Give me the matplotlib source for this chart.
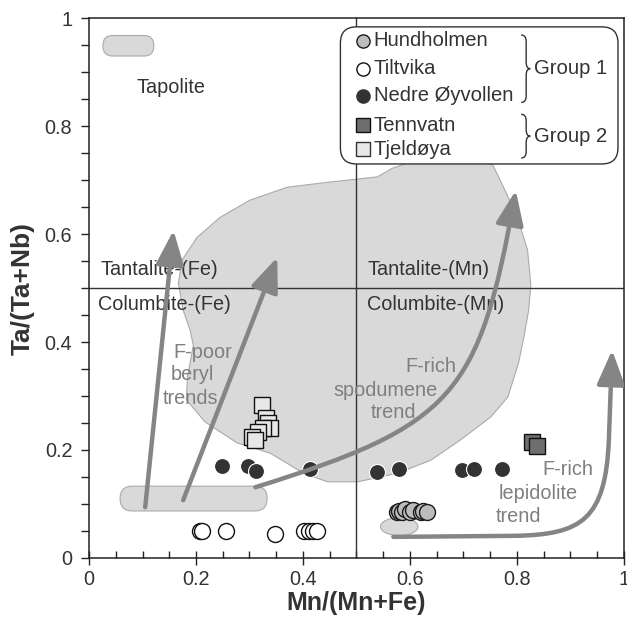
import numpy as np
import matplotlib
matplotlib.use("Agg")
import matplotlib.pyplot as plt
from matplotlib.patches import FancyArrowPatch, FancyBboxPatch, Ellipse, Polygon, PathPatch
from matplotlib.path import Path
from matplotlib.ticker import MultipleLocator, FixedLocator

plt.rcParams['font.family'] = ['Liberation Sans', 'DejaVu Sans']

# ---- samples (Mn/(Mn+Fe), Ta/(Ta+Nb)) ----
hund_x = [0.575, 0.580, 0.585, 0.590, 0.600, 0.605, 0.620, 0.625, 0.632]
hund_y = [0.085, 0.087, 0.085, 0.091, 0.086, 0.088, 0.085, 0.087, 0.086]
tilt_x = [0.208, 0.212, 0.257, 0.348, 0.402, 0.412, 0.419, 0.426]
tilt_y = [0.050, 0.050, 0.050, 0.045, 0.050, 0.050, 0.050, 0.050]
nedre_x = [0.249, 0.298, 0.313, 0.414, 0.539, 0.579, 0.697, 0.719, 0.772]
nedre_y = [0.170, 0.170, 0.161, 0.165, 0.159, 0.165, 0.163, 0.165, 0.165]
tenn_x = [0.829, 0.837]
tenn_y = [0.215, 0.207]
tjel_x = [0.324, 0.330, 0.335, 0.339, 0.326, 0.315, 0.305, 0.311]
tjel_y = [0.283, 0.259, 0.250, 0.241, 0.241, 0.233, 0.224, 0.219]

# ---- fields ----
field_x = [0.167, 0.174, 0.202, 0.245, 0.301, 0.371, 0.446, 0.502, 0.539, 0.567,
           0.620, 0.713, 0.755, 0.775, 0.801, 0.820, 0.826, 0.822, 0.813, 0.803,
           0.783, 0.751, 0.695, 0.639, 0.577, 0.502, 0.446, 0.401, 0.339, 0.277,
           0.217, 0.182, 0.184, 0.195, 0.189, 0.176]
field_y = [0.509, 0.552, 0.594, 0.631, 0.663, 0.687, 0.696, 0.702, 0.706, 0.722,
           0.740, 0.740, 0.728, 0.687, 0.631, 0.570, 0.506, 0.459, 0.409, 0.361,
           0.298, 0.261, 0.219, 0.181, 0.157, 0.141, 0.141, 0.157, 0.194, 0.213,
           0.252, 0.293, 0.335, 0.394, 0.422, 0.459]

labels = ["Hundholmen", "Tiltvika", "Nedre Øyvollen", "Tennvatn", "Tjeldøya"]
groups = ["Group 1", "Group 2"]

GREY_FILL = '#d9d9d9'
ARROW = '#858585'
TXT = '#333333'
TREND = '#7f7f7f'

fig = plt.figure(figsize=(6.27, 6.29), dpi=100)
ax = fig.add_axes([0.142, 0.113, 0.853, 0.858])
ax.set_xlim(0, 1)
ax.set_ylim(0, 1)

# fields
ax.add_patch(Polygon(np.column_stack([field_x, field_y]), closed=True,
                     fc=GREY_FILL, ec='#aaaaaa', lw=0.8, zorder=1))
ax.add_patch(FancyBboxPatch((0.034, 0.938), 0.079, 0.022,
                            boxstyle="round,pad=0.008,rounding_size=0.018",
                            fc=GREY_FILL, ec='#aaaaaa', lw=0.8, zorder=1))
ax.add_patch(FancyBboxPatch((0.070, 0.099), 0.251, 0.022,
                            boxstyle="round,pad=0.012,rounding_size=0.023",
                            fc=GREY_FILL, ec='#aaaaaa', lw=0.8, zorder=1))
ax.add_patch(Ellipse((0.58, 0.058), 0.07, 0.033, fc=GREY_FILL, ec='#aaaaaa',
                     lw=0.8, zorder=1))

# classification lines
ax.axvline(0.5, color='#333333', lw=1.0, zorder=2)
ax.axhline(0.5, color='#333333', lw=1.0, zorder=2)

# samples
ms = 11.5
ax.plot(tilt_x, tilt_y, 'o', ms=ms, mfc='white', mec='#111111', mew=1.0, ls='none', zorder=4)
ax.plot(hund_x, hund_y, 'o', ms=ms, mfc='#bdbdbd', mec='#1a1a1a', mew=1.0, ls='none', zorder=4)
ax.plot(nedre_x, nedre_y, 'o', ms=ms, mfc='#333333', mec='white', mew=0.8, ls='none', zorder=4)
ax.plot(tenn_x, tenn_y, 's', ms=ms, mfc='#6e6e6e', mec='#111111', mew=1.0, ls='none', zorder=4)
ax.plot(tjel_x, tjel_y, 's', ms=ms, mfc='#e8e8e8', mec='#111111', mew=1.0, ls='none', zorder=4)

# trend arrows
style = "-|>,head_length=21,head_width=8.5"
def straight(p0, p1):
    ax.add_patch(FancyArrowPatch(p0, p1, arrowstyle=style, color=ARROW, lw=3.2,
                                 shrinkA=0, shrinkB=0, zorder=5))

straight((0.105, 0.094), (0.158, 0.607))
straight((0.176, 0.107), (0.352, 0.557))

spod = Path([(0.311, 0.131), (0.681, 0.245), (0.730, 0.301), (0.798, 0.681)],
            [Path.MOVETO, Path.CURVE4, Path.CURVE4, Path.CURVE4])
ax.add_patch(FancyArrowPatch(path=spod, arrowstyle=style, color=ARROW, lw=3.2, zorder=5))

lepi = Path([(0.569, 0.039), (0.80, 0.041), (0.92, 0.044), (0.966, 0.07), (0.972, 0.22),
             (0.978, 0.385)],
            [Path.MOVETO, Path.LINETO, Path.CURVE4, Path.CURVE4, Path.CURVE4, Path.LINETO])
ax.add_patch(FancyArrowPatch(path=lepi, arrowstyle=style, color=ARROW, lw=3.2, zorder=5))

# labels on the diagram
fs = 14.3
ax.text(0.088, 0.872, "Tapolite", fontsize=fs, color=TXT, va='center')
ax.text(0.022, 0.535, "Tantalite-(Fe)", fontsize=fs, color=TXT, va='center')
ax.text(0.017, 0.469, "Columbite-(Fe)", fontsize=fs, color=TXT, va='center')
ax.text(0.520, 0.535, "Tantalite-(Mn)", fontsize=fs, color=TXT, va='center')
ax.text(0.519, 0.469, "Columbite-(Mn)", fontsize=fs, color=TXT, va='center')

ax.text(0.157, 0.381, "F-poor", fontsize=fs, color=TREND, va='center')
ax.text(0.152, 0.339, "beryl", fontsize=fs, color=TREND, va='center')
ax.text(0.137, 0.296, "trends", fontsize=fs, color=TREND, va='center')
ax.text(0.592, 0.354, "F-rich", fontsize=fs, color=TREND, va='center')
ax.text(0.457, 0.311, "spodumene", fontsize=fs, color=TREND, va='center')
ax.text(0.526, 0.269, "trend", fontsize=fs, color=TREND, va='center')
ax.text(0.848, 0.163, "F-rich", fontsize=fs, color=TREND, va='center')
ax.text(0.766, 0.120, "lepidolite", fontsize=fs, color=TREND, va='center')
ax.text(0.760, 0.076, "trend", fontsize=fs, color=TREND, va='center')

# legend box (drawn by hand to get the group braces)
tA = ax.transAxes
lfs = 14.6
ax.add_patch(FancyBboxPatch((0.478, 0.738), 0.503, 0.238,
                            boxstyle="round,pad=0.008,rounding_size=0.03",
                            fc='white', ec='#333333', lw=1.0, transform=tA, zorder=6))
rows = [0.958, 0.906, 0.856, 0.802, 0.757]
leg_marker = [('o', '#bdbdbd', '#1a1a1a'), ('o', 'white', '#111111'),
              ('o', '#333333', '#333333'), ('s', '#6e6e6e', '#111111'),
              ('s', '#e8e8e8', '#333333')]
for lab, yy, (mk, fc, ec) in zip(labels, rows, leg_marker):
    ax.plot([0.512], [yy], mk, ms=9.5, mfc=fc, mec=ec, mew=1.0, transform=tA,
            zorder=7, clip_on=False)
    ax.text(0.532, yy, lab, fontsize=lfs, color=TXT, va='center', transform=tA, zorder=7)

def brace(x0, y0, y1, w):
    ym = 0.5 * (y0 + y1)
    h = 0.012
    xm = x0 + w * 0.55
    verts = [(x0, y1), (xm, y1), (xm, y1 - h), (xm, ym + h), (xm, ym), (x0 + w, ym),
             (xm, ym), (xm, ym - h), (xm, y0 + h), (xm, y0), (x0, y0)]
    codes = [Path.MOVETO, Path.CURVE3, Path.CURVE3, Path.LINETO, Path.CURVE3, Path.CURVE3,
             Path.CURVE3, Path.CURVE3, Path.LINETO, Path.CURVE3, Path.CURVE3]
    ax.add_patch(PathPatch(Path(verts, codes), fc='none', ec='#333333', lw=1.0,
                           transform=tA, zorder=7))
    return ym

y_g1 = brace(0.808, 0.844, 0.969, 0.017)
y_g2 = brace(0.808, 0.741, 0.822, 0.017)
ax.text(0.832, y_g1, groups[0], fontsize=lfs, color=TXT, va='center', transform=tA, zorder=7)
ax.text(0.832, y_g2, groups[1], fontsize=lfs, color=TXT, va='center', transform=tA, zorder=7)

# axes styling
for sp in ax.spines.values():
    sp.set_color('#222222')
    sp.set_linewidth(1.1)
ax.xaxis.set_major_locator(FixedLocator([0, 0.2, 0.4, 0.6, 0.8, 1.0]))
ax.yaxis.set_major_locator(FixedLocator([0, 0.2, 0.4, 0.6, 0.8, 1.0]))
ax.xaxis.set_minor_locator(MultipleLocator(0.05))
ax.yaxis.set_minor_locator(MultipleLocator(0.05))
ticklabs = ["0", "0.2", "0.4", "0.6", "0.8", "1"]
ax.set_xticklabels(ticklabs)
ax.set_yticklabels(ticklabs)
ax.tick_params(axis='x', which='major', direction='inout', length=10, width=1.0,
               labelsize=fs, colors='#222222', labelcolor=TXT, pad=4)
ax.tick_params(axis='x', which='minor', direction='in', length=5, width=1.0, colors='#222222')
ax.tick_params(axis='y', which='both', direction='out', length=6, width=1.0,
               labelsize=fs, colors='#222222', labelcolor=TXT, pad=6)

ax.set_xlabel("Mn/(Mn+Fe)", fontsize=18, fontweight='bold', color=TXT, labelpad=1)
ax.set_ylabel("Ta/(Ta+Nb)", fontsize=19, fontweight='bold', color=TXT, labelpad=7)

fig.savefig("out.png", dpi=100)
